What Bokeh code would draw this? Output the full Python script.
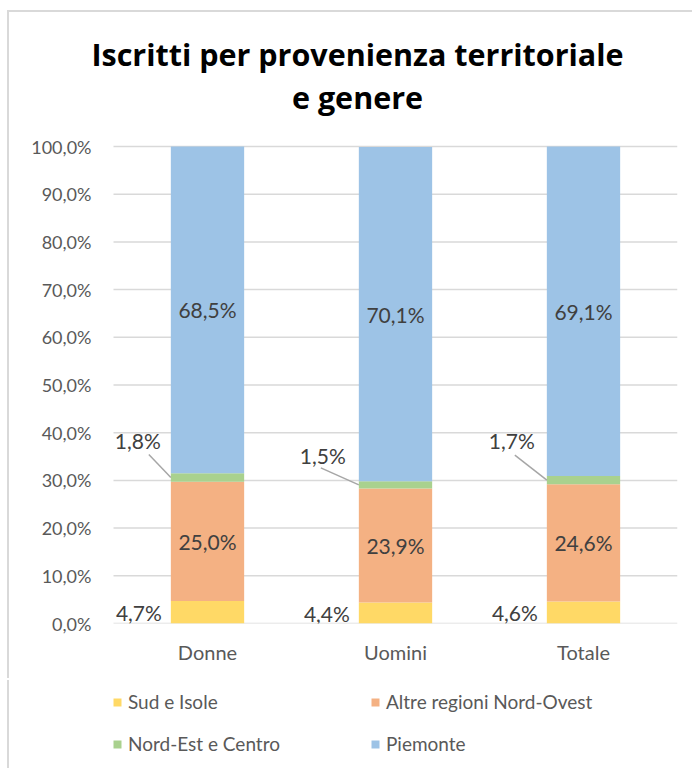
import numpy as np
from bokeh.plotting import figure
from bokeh.layouts import column
from bokeh.models import (Legend, LegendItem, FixedTicker, Range1d, Label)
from bokeh.core.properties import value
from bokeh.embed import file_html
from bokeh.resources import INLINE

# ---------------- data ----------------
categories = ["Donne", "Uomini", "Totale"]
series_names = ["Sud e Isole", "Altre regioni Nord-Ovest", "Nord-Est e Centro", "Piemonte"]
sud_isole = [4.7, 4.4, 4.6]
altre_nord_ovest = [25.0, 23.9, 24.6]
nord_est_centro = [1.8, 1.5, 1.7]
piemonte = [68.5, 70.1, 69.1]
y_ticks = [0, 10, 20, 30, 40, 50, 60, 70, 80, 90, 100]
y_tick_labels = ["0,0%", "10,0%", "20,0%", "30,0%", "40,0%", "50,0%",
                 "60,0%", "70,0%", "80,0%", "90,0%", "100,0%"]
title_lines = ["Iscritti per provenienza territoriale", "e genere"]

# ---------------- style / geometry ----------------
colors = ["#FFD966", "#F4B183", "#A9D18E", "#9DC3E6"]
FONT = "Lato"
TFONT = "Open Sans"
W, H1, H2 = 685, 668, 88
PX_X = 188.0          # pixels per category
PX_Y = 4.77           # pixels per percentage point
EXTRA_LEFT = 22       # frame extends this far left of the bar area (room for the title)
EXTRA_TOP = 126       # frame extends this far above 100% (room for the title)
ML = 104 - EXTRA_LEFT
MT = 134 - EXTRA_TOP
frame_w = int(3 * PX_X) + EXTRA_LEFT
frame_h = int(round(100 * PX_Y)) + EXTRA_TOP
MR = W - ML - frame_w
MB = H1 - MT - frame_h
BAR_W = 0.39

def fmt(v):
    return f"{v:.1f}".replace(".", ",") + "%"

x = np.arange(len(categories), dtype=float)
series = [np.array(sud_isole), np.array(altre_nord_ovest),
          np.array(nord_est_centro), np.array(piemonte)]

p = figure(width=W, height=H1, output_backend="svg", toolbar_location=None,
           x_range=Range1d(-0.5 - EXTRA_LEFT / PX_X, 2.5),
           y_range=Range1d(0, 100 + EXTRA_TOP / PX_Y),
           min_border_left=ML, min_border_right=MR,
           min_border_top=MT, min_border_bottom=MB)
p.margin = (12, 0, 0, 9)
p.styles = {"box-shadow": "-2px -2px 0px 0px #D9D9D9"}
p.outline_line_color = None
p.background_fill_color = "white"
p.border_fill_color = "white"

# axes
p.xaxis.ticker = FixedTicker(ticks=list(x))
p.xaxis.major_label_overrides = {int(i): c for i, c in zip(x, categories)}
p.xaxis.axis_line_color = None
p.xaxis.major_tick_line_color = None
p.xaxis.major_tick_out = 0
p.xaxis.major_tick_in = 0
p.xaxis.minor_tick_line_color = None
p.xaxis.major_label_text_font = FONT
p.xaxis.major_label_text_font_size = "20px"
p.xaxis.major_label_text_color = "#595959"
p.xaxis.major_label_standoff = 16

p.yaxis.ticker = FixedTicker(ticks=y_ticks)
p.yaxis.major_label_overrides = {t: l for t, l in zip(y_ticks, y_tick_labels)}
p.yaxis.axis_line_color = None
p.yaxis.major_tick_line_color = None
p.yaxis.major_tick_out = 0
p.yaxis.major_tick_in = 0
p.yaxis.minor_tick_line_color = None
p.yaxis.major_label_text_font = FONT
p.yaxis.major_label_text_font_size = "18px"
p.yaxis.major_label_text_color = "#595959"
p.yaxis.major_label_standoff = 0

p.xgrid.grid_line_color = None
p.ygrid.grid_line_color = None
# horizontal gridlines spanning only the category area
p.segment(x0=-0.5, x1=2.5, y0=y_ticks, y1=y_ticks,
          line_color="#D9D9D9", line_width=1.5)

# stacked bars
bottom = np.zeros(len(categories))
for vals, col in zip(series, colors):
    top = bottom + vals
    p.vbar(x=x, width=BAR_W, bottom=bottom, top=top, fill_color=col,
           line_color=None)
    bottom = top

cum0 = series[0]
cum1 = cum0 + series[1]
cum2 = cum1 + series[2]

label_color = "#404040"
# inside labels (Altre regioni, Piemonte)
p.text(x=x, y=cum0 + series[1] / 2, text=[fmt(v) for v in series[1]],
       text_font=value(FONT), text_font_size="21px", text_color=label_color,
       text_align="center", text_baseline="middle")
p.text(x=x, y=cum2 + series[3] / 2, text=[fmt(v) for v in series[3]],
       text_font=value(FONT), text_font_size="21px", text_color=label_color,
       text_align="center", text_baseline="middle")
# Sud e Isole labels to the left of bar
p.text(x=x - BAR_W / 2, y=series[0] / 2, text=[fmt(v) for v in series[0]],
       x_offset=-9, text_font=value(FONT), text_font_size="21px",
       text_color=label_color, text_align="right", text_baseline="middle")

# Nord-Est labels with leader lines
anchor_x = x - BAR_W / 2
anchor_y = cum1 + series[2] / 2
lbl_dx = [-33, -36, -35]
lbl_dy = [-37, -29, -40]
lead_dx = [-22, -38, -32]
lead_dy = [-23, -17, -25]
p.segment(x0=anchor_x, y0=anchor_y,
          x1=anchor_x + np.array(lead_dx) / PX_X,
          y1=anchor_y - np.array(lead_dy) / PX_Y,
          line_color="#A6A6A6", line_width=1.5)
p.text(x=anchor_x, y=anchor_y, text=[fmt(v) for v in series[2]],
       x_offset=lbl_dx, y_offset=lbl_dy, text_font=value(FONT),
       text_font_size="21px", text_color=label_color,
       text_align="center", text_baseline="middle")

# title: two centred lines inside the (extended) frame
title_x = -0.5 + (357 - 113) / PX_X
for line, above_px in zip(title_lines, [570, 527]):
    p.add_layout(Label(x=title_x, y=above_px / PX_Y, text=line,
                       text_font=TFONT, text_font_size="30.5px",
                       text_font_style="bold", text_color="#000000",
                       text_align="center", text_baseline="alphabetic"))

# ---------------- legend figure ----------------
q = figure(width=W, height=H2, output_backend="svg", toolbar_location=None,
           x_range=Range1d(0, W), y_range=Range1d(0, H2),
           x_axis_type=None, y_axis_type=None,
           min_border_left=ML, min_border_right=MR,
           min_border_top=0, min_border_bottom=0)
q.margin = (0, 0, 0, 9)
q.styles = {"box-shadow": "-2px 0px 0px 0px #D9D9D9"}
q.outline_line_color = None
q.xgrid.grid_line_color = None
q.ygrid.grid_line_color = None
q.border_fill_color = "white"

# invisible (zero-size) renderers that only provide the legend swatches
leg_renderers = [q.vbar(x=[0], width=0, top=[0], bottom=[0], fill_color=c,
                        line_color=None) for c in colors]

def make_legend(idx, xpos):
    items = [LegendItem(label=series_names[i], renderers=[leg_renderers[i]]) for i in idx]
    lg = Legend(items=items, location=(xpos, 13), orientation="vertical",
                glyph_width=10, glyph_height=10, label_standoff=6,
                label_height=20, spacing=19, padding=0, margin=0,
                border_line_color=None, background_fill_alpha=0,
                label_text_font=FONT, label_text_font_size="19px",
                label_text_color="#595959")
    q.add_layout(lg, "center")

make_legend([0, 2], EXTRA_LEFT - 1)
make_legend([1, 3], EXTRA_LEFT + 257)

layout = column(p, q, spacing=0)
open("out.html", "w").write(file_html(layout, INLINE))
